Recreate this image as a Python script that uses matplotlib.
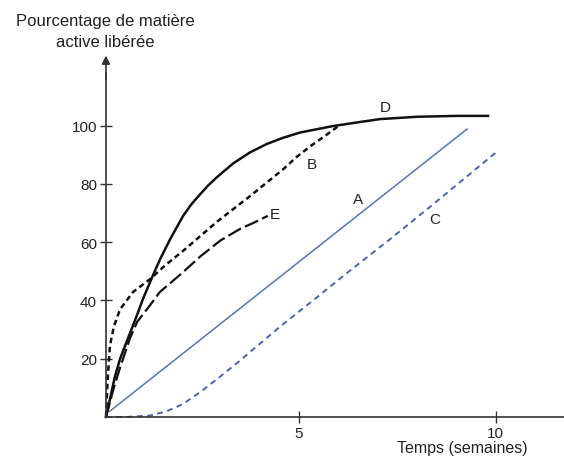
import matplotlib.pyplot as plt

plt.rcParams['font.family'] = ['Liberation Sans', 'DejaVu Sans']

# courbes (temps en semaines, % libéré)
d_x = [0.1, 0.2, 0.33, 0.46, 0.63, 0.89, 1.04, 1.29, 1.47, 1.73, 2.06, 2.27, 2.49, 2.7, 2.92, 3.33, 3.76, 4.19, 4.6, 5.03, 5.86, 6.55, 7.06, 8.0, 9.0, 9.8]
d_y = [0, 6, 14, 20, 26, 35, 40.5, 48.5, 54, 61, 69, 73, 76.4, 79.5, 82.3, 87, 90.8, 93.7, 95.8, 97.6, 99.8, 101.2, 102.2, 103, 103.3, 103.3]

b_x = [0.1, 0.14, 0.2, 0.3, 0.46, 0.79, 1.22, 1.6, 2.06, 2.49, 2.92, 3.76, 4.19, 4.6, 4.95, 5.3, 5.7, 6.0]
b_y = [0, 12, 24.4, 31, 37, 42.9, 47.3, 52, 57, 62, 67, 75.8, 80.5, 85, 89.3, 93, 96.8, 99.8]

e_x = [0.1, 0.3, 0.46, 0.71, 0.89, 1.2, 1.47, 2.0, 2.49, 3.0, 3.5, 3.83, 4.21]
e_y = [0, 10, 17, 27, 32.6, 38, 42.9, 49, 55, 60.5, 64.5, 66.5, 69]

a_x = [0.2, 9.27]
a_y = [2, 98.8]

c_x = [0.1, 0.6, 1.22, 1.65, 2.06, 2.49, 2.92, 3.5, 3.76, 4.52, 5.36, 6.21, 7.22, 8.32, 10.05]
c_y = [0, 0, 0.5, 2, 4.5, 8.5, 13, 19.3, 22.3, 31, 40, 49.3, 60, 72, 91.3]

labels = ['D', 'B', 'E', 'A', 'C']
label_x = [7.18, 5.33, 4.39, 6.5, 8.45]
label_y = [106.2, 86.8, 69.6, 74.8, 67.9]

y_ticks = [20, 40, 60, 80, 100]
x_ticks = [5, 10]

fig = plt.figure(figsize=(5.64, 4.64), dpi=100)
ax = fig.add_axes([0, 0, 1, 1])
ax.set_xlim(-2.59, 11.73)
ax.set_ylim(-15.78, 143.4)

ax.plot(d_x, d_y, color='#111111', lw=1.8)
ax.plot(b_x, b_y, color='#111111', lw=1.8, linestyle=(0, (2.2, 1.5)))
ax.plot(e_x, e_y, color='#111111', lw=1.6, linestyle=(0, (6.5, 2)))
ax.plot(a_x, a_y, color='#5577b0', lw=1.1)
ax.plot(c_x, c_y, color='#4a64a8', lw=1.4, linestyle=(0, (3, 2.3)))

for lab, lx, ly in zip(labels, label_x, label_y):
    ax.text(lx, ly, lab, fontsize=11, color='#222222', ha='center', va='center')

# axes
for s in ['top', 'right']:
    ax.spines[s].set_visible(False)
ax.spines['left'].set_position(('data', 0.1))
ax.spines['bottom'].set_position(('data', 0))
ax.spines['left'].set_bounds(0, 118)
ax.spines['bottom'].set_bounds(0.1, 11.73)
for s in ['left', 'bottom']:
    ax.spines[s].set_color('#333333')
    ax.spines[s].set_linewidth(1.2)
ax.annotate('', xy=(0.1, 124), xytext=(0.1, 116),
            arrowprops=dict(arrowstyle='-|>', color='#333333', lw=1.2,
                            mutation_scale=12, shrinkA=0, shrinkB=0))

ax.set_yticks(y_ticks)
ax.set_xticks(x_ticks)
ax.tick_params(direction='inout', length=9, width=1, color='#333333',
               labelsize=11, labelcolor='#222222', pad=2)

ax.text(0.08, 132.4, 'Pourcentage de matière\nactive libérée', fontsize=12,
        color='#222222', ha='center', va='center', linespacing=1.5)
ax.text(9.14, -10.5, 'Temps (semaines)', fontsize=11.5, color='#222222',
        ha='center', va='center')

fig.savefig('out.png', dpi=100)
